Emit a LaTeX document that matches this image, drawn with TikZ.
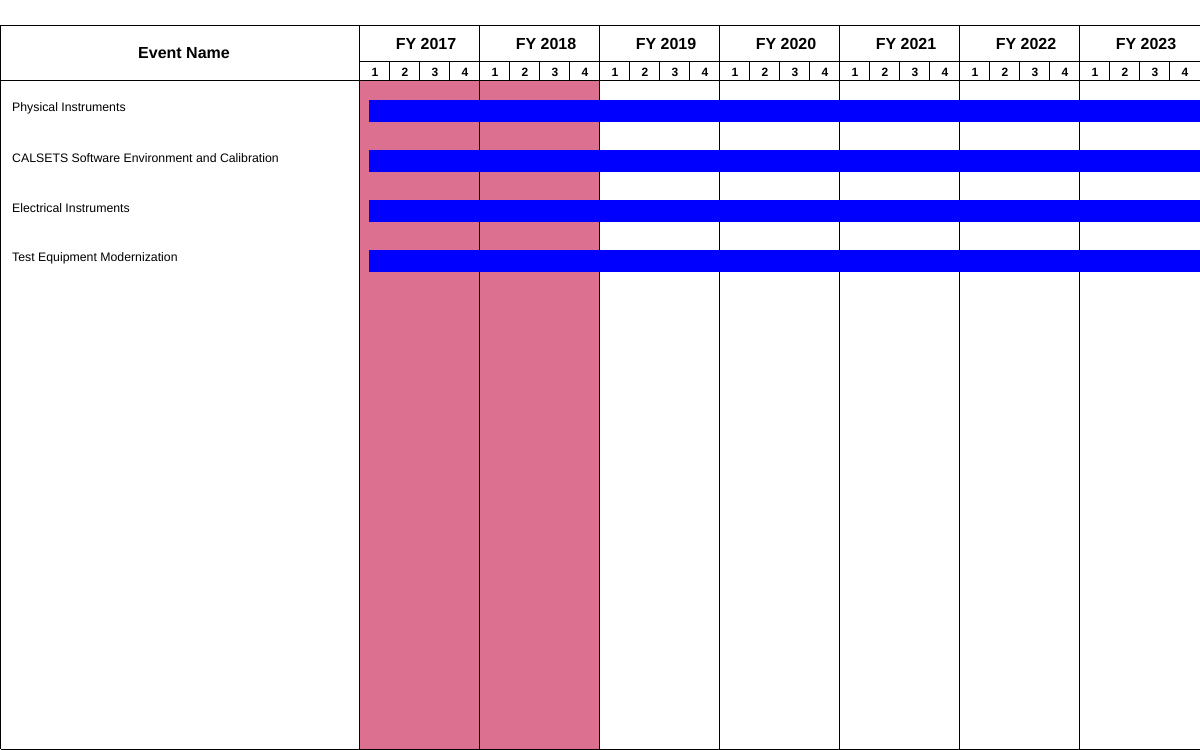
\documentclass[tikz,border=0pt]{standalone}
\usepackage{fontspec}
\setmainfont{Liberation Sans}
\definecolor{pinkfill}{RGB}{220,112,144}
\definecolor{barblue}{RGB}{0,0,255}
\begin{document}
\begin{tikzpicture}[x=1pt,y=-1pt,
  gridline/.style={line width=1pt,draw=black},
  evtext/.style={anchor=west,inner sep=0pt,font=\fontsize{12.3}{14}\selectfont},
  yrtext/.style={inner sep=0pt,font=\bfseries\fontsize{16}{18}\selectfont},
  qtext/.style={inner sep=0pt,font=\bfseries\fontsize{12}{14}\selectfont},
  ganttbar/.style={fill=barblue,draw=none}]
\useasboundingbox (0,0) rectangle (1200,750);
\fill[white] (0,0) rectangle (1200,750);
% shaded past years
\fill[pinkfill] (359.5,80) rectangle (599.5,749);
% grid
\draw[gridline] (0.5,25) -- (1200,25);
\draw[gridline] (0.5,25) -- (0.5,749);
\draw[gridline] (0.5,749) -- (1200,749);
\draw[gridline] (359.5,61) -- (1200,61);
\draw[gridline] (0.5,80) -- (1200,80);
\foreach \k in {0,...,6}{
  \draw[gridline] (359.5+120*\k,25) -- (359.5+120*\k,749);
  \foreach \q in {1,2,3}{
    \draw[gridline] (359.5+120*\k+30*\q,61) -- (359.5+120*\k+30*\q,80);
  }
}
% bars
\foreach \y in {100,150,200,250}{
  \fill[ganttbar] (369,\y) rectangle (1200,\y+22);
}
% header texts
\node[yrtext] (hdr) at (184,53) {Event Name};
\foreach \yr [count=\k from 0] in {2017,2018,2019,2020,2021,2022,2023}{
  \node[yrtext] (fy\yr) at (426+120*\k,44) {FY \yr};
  \foreach \q in {1,2,3,4}{
    \node[qtext] (q\yr\q) at (345+120*\k+30*\q,72) {\q};
  }
}
% events
\node[evtext] (ev1) at (12,108) {Physical Instruments};
\node[evtext] (ev2) at (12,158) {CALSETS Software Environment and Calibration};
\node[evtext] (ev3) at (12,208) {Electrical Instruments};
\node[evtext] (ev4) at (12,258) {Test Equipment Modernization};
\end{tikzpicture}
\end{document}
